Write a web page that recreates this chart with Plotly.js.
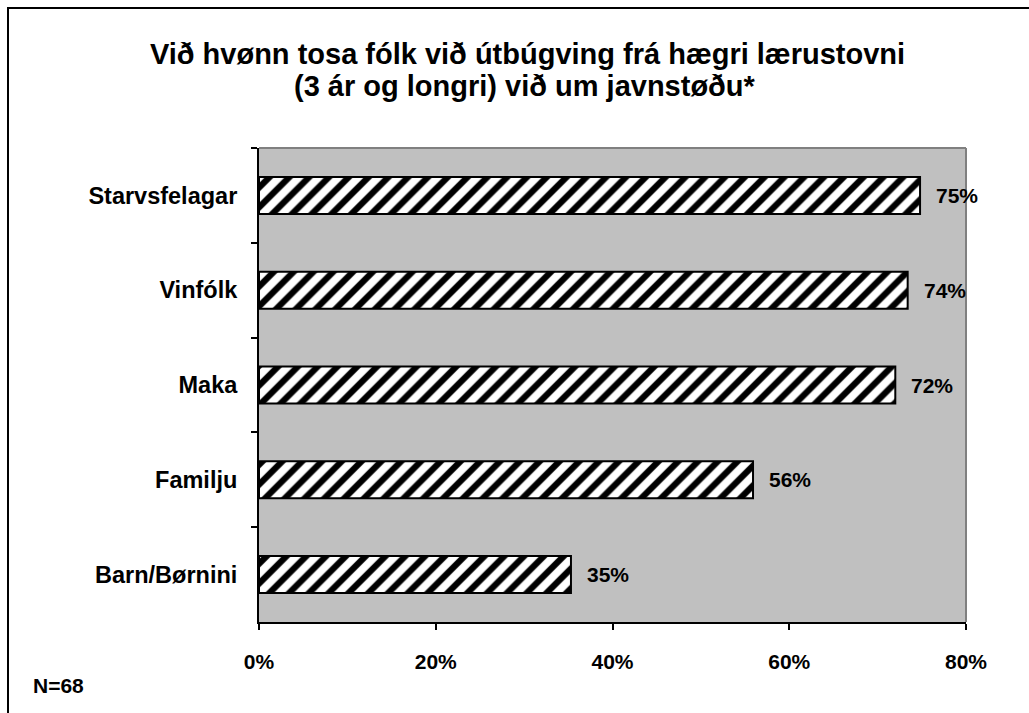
<!DOCTYPE html>
<html>
<head>
<meta charset="utf-8">
<script src="https://cdn.plot.ly/plotly-3.0.1.min.js"></script>
<style>
  html, body { margin: 0; padding: 0; background: #fff; }
  #wrap { position: relative; width: 1029px; height: 713px; overflow: hidden; }
  #chart { position: absolute; left: 0; top: 0; width: 1029px; height: 713px; }
  #frame { position: absolute; left: 7px; top: 7px; width: 1040px; height: 730px;
           border-left: 2px solid #000; border-top: 2px solid #000; pointer-events: none; }
</style>
</head>
<body>
<div id="wrap">
  <div id="chart"></div>
  <div id="frame"></div>
</div>
<script>
const categories = ["Starvsfelagar", "Vinfólk", "Maka", "Familju", "Barn/Børnini"];
const values = [0.748, 0.734, 0.72, 0.559, 0.353];
const valueLabels = ["75%", "74%", "72%", "56%", "35%"];
const xTickVals = [0, 0.2, 0.4, 0.6, 0.8];
const xTickText = ["0%", "20%", "40%", "60%", "80%"];
const titleLine1 = "Við hvønn tosa fólk við útbúgving frá hægri lærustovni";
const titleLine2 = "(3 ár og longri) við um javnstøðu*";
const noteText = "N=68";

const FONT = "Liberation Sans, Arial, sans-serif";

const trace = {
  type: "bar",
  orientation: "h",
  y: categories,
  x: values,
  marker: {
    color: "#ffffff",
    line: { color: "#000000", width: 2 },
    pattern: { shape: "/", fgcolor: "#000000", bgcolor: "#ffffff", size: 14, solidity: 0.45 }
  },
  hoverinfo: "skip"
};

const annotations = categories.map((c, i) => ({
  x: values[i], y: c, xref: "x", yref: "y",
  text: "<b>" + valueLabels[i] + "</b>",
  showarrow: false, xanchor: "left", yanchor: "middle", xshift: 14,
  font: { family: FONT, size: 21, color: "#000" }
}));
annotations.push({
  x: -0.323, y: -0.135, xref: "paper", yref: "paper",
  text: "<b>" + noteText + "</b>", showarrow: false,
  xanchor: "left", yanchor: "middle",
  font: { family: FONT, size: 21, color: "#000" }
});
annotations.push({
  x: (525 - 259) / 707, y: (622 - 86) / 474, xref: "paper", yref: "paper",
  text: "<b>" + titleLine2 + "</b>", showarrow: false,
  xanchor: "center", yanchor: "middle",
  font: { family: FONT, size: 29, color: "#000" }
});

const layout = {
  width: 1029, height: 713,
  margin: { l: 259, r: 63, t: 148, b: 91 },
  paper_bgcolor: "rgba(0,0,0,0)",
  plot_bgcolor: "#c0c0c0",
  showlegend: false,
  bargap: 0.61,
  title: {
    text: "<b>" + titleLine1 + "</b>",
    font: { family: FONT, size: 29, color: "#000" },
    x: 527.5 / 1029, xref: "container", xanchor: "center",
    y: 1 - 54 / 713, yref: "container", yanchor: "middle"
  },
  xaxis: {
    range: [0, 0.8],
    tickvals: xTickVals, ticktext: xTickText,
    ticks: "outside", ticklen: 6, tickwidth: 2, tickcolor: "#000",
    showline: true, linecolor: "#000", linewidth: 2,
    showgrid: false, zeroline: false,
    ticklabelstandoff: 14,
    tickfont: { family: FONT, size: 21, color: "#000", weight: "bold" },
    fixedrange: true
  },
  yaxis: {
    type: "category",
    autorange: "reversed",
    tickson: "boundaries",
    ticks: "outside", ticklen: 6, tickwidth: 2, tickcolor: "#000",
    showline: true, linecolor: "#000", linewidth: 2,
    showgrid: false, zeroline: false,
    ticklabelstandoff: 15,
    tickfont: { family: FONT, size: 23.5, color: "#000", weight: "bold" },
    fixedrange: true
  },
  shapes: [
    { type: "line", xref: "paper", yref: "paper", x0: 0, x1: 1, y0: 1, y1: 1,
      line: { color: "#808080", width: 2 }, layer: "above" },
    { type: "line", xref: "paper", yref: "paper", x0: 1, x1: 1, y0: 0, y1: 1,
      line: { color: "#808080", width: 2 }, layer: "above" }
  ],
  annotations: annotations
};

Plotly.newPlot("chart", [trace], layout, { displayModeBar: false, staticPlot: true });
</script>
</body>
</html>
